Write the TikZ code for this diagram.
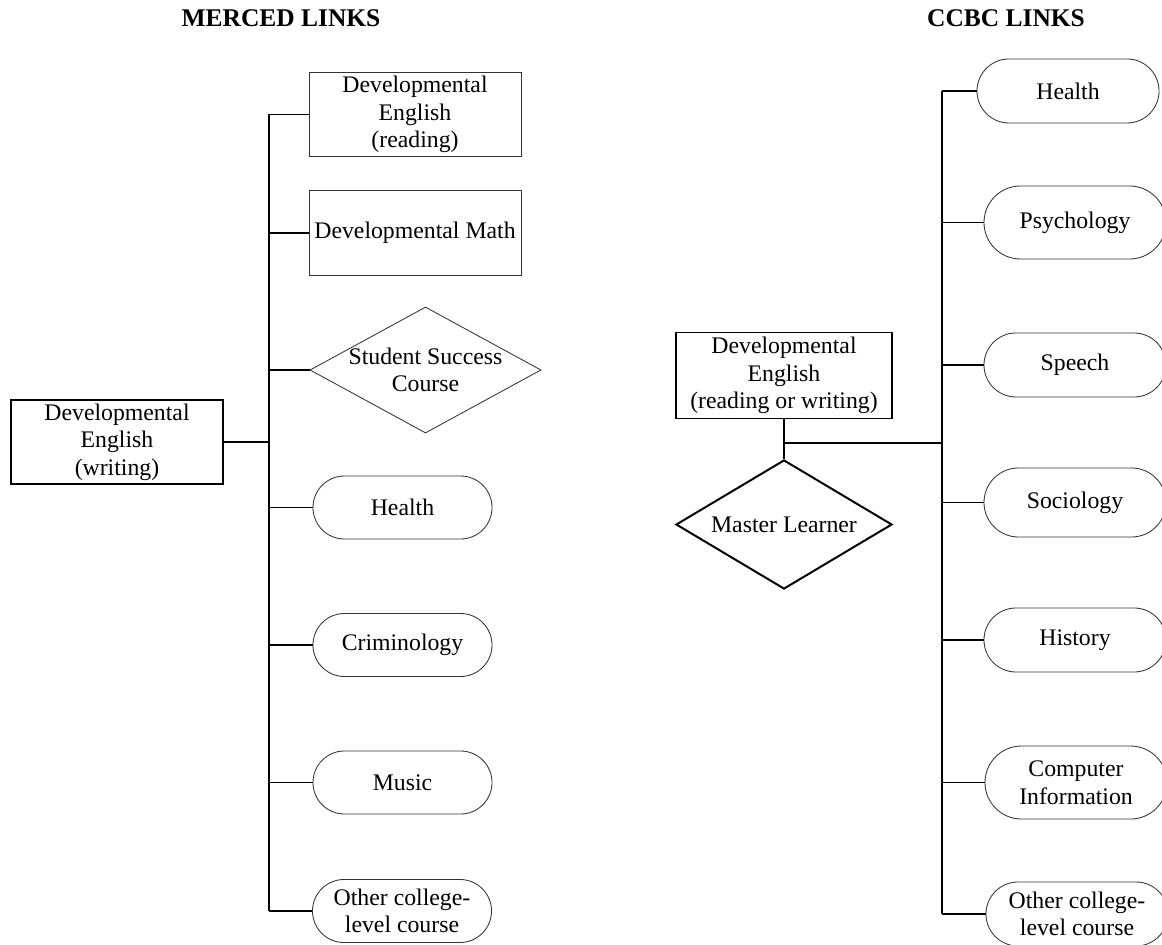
\documentclass[tikz,border=0pt]{standalone}
\usepackage{fontspec}
\setmainfont{Liberation Serif}
\usetikzlibrary{shapes.geometric,shapes.misc}
\begin{document}
\begin{tikzpicture}[x=0.025cm, y=-0.025cm,
  every node/.style={font=\fontsize{16.9}{19.6}\selectfont, align=center, inner sep=0pt},
  title/.style={font=\fontsize{18.1}{21}\selectfont\bfseries},
  box/.style={draw=black!80, line width=0.6pt, minimum width=5.3cm, minimum height=2.12cm},
  mainbox/.style={draw, line width=1.4pt, minimum width=5.3cm, minimum height=2.1cm},
  pill/.style={rounded rectangle, draw=black!80, line width=0.6pt, minimum width=4.475cm, minimum height=1.575cm},
  choice/.style={diamond, draw=black!80, line width=0.6pt, minimum width=5.775cm, minimum height=3.15cm},
  link/.style={line width=1.1pt}]
\useasboundingbox (0,0) rectangle (1162,945);
\node[title] (mt) at (281,18){MERCED LINKS};
\node[title] (ct) at (1006,18){CCBC LINKS};
\node[mainbox] (m0) at (117,442){Developmental\\English\\(writing)};
\node[box] (m1) at (415,114.5){Developmental\\English\\(reading)};
\node[box] (m2) at (415,233){Developmental Math};
\node[choice] (m3) at (425.5,370){\makebox[0pt]{Student Success}\\\makebox[0pt]{Course}};
\node[pill] (m4) at (402.5,507.5){Health};
\node[pill] (m5) at (402.5,645){Criminology};
\node[pill] (m6) at (402.5,782.5){Music};
\node[pill] (m7) at (402,911){Other college-\\level course};
\coordinate (msp) at (269,442);
\draw[link](m0.east) -- (msp);
\draw[link](msp |- m1.west) -- (msp |- m7.west);
\draw[link](msp |- m1.west) -- (m1.west);
\draw[link](msp |- m2.west) -- (m2.west);
\draw[link](msp |- m3.west) -- (m3.west);
\draw[link](msp |- m4.west) -- (m4.west);
\draw[link](msp |- m5.west) -- (m5.west);
\draw[link](msp |- m6.west) -- (m6.west);
\draw[link](msp |- m7.west) -- (m7.west);
\node[mainbox, minimum width=5.4cm, minimum height=2.15cm] (c0) at (784,375.5){Developmental\\English\\(reading or writing)};
\node[choice, draw=black, line width=1.4pt, minimum width=5.4cm, minimum height=3.225cm] (c1) at (784,524.5){\makebox[0pt]{Master Learner}};
\node[pill, minimum width=4.55cm, minimum height=1.6cm] (c2) at (1068,91){Health};
\node[pill, minimum width=4.55cm, minimum height=1.825cm] (c3) at (1075,222.5){Psychology};
\node[pill, minimum width=4.55cm, minimum height=1.6cm] (c4) at (1075,365){Speech};
\node[pill, minimum width=4.55cm, minimum height=1.725cm] (c5) at (1075,502.5){Sociology};
\node[pill, minimum width=4.55cm, minimum height=1.6cm] (c6) at (1075,640){History};
\node[pill, minimum width=4.55cm, minimum height=1.825cm] (c7) at (1076,782.5){Computer\\Information};
\node[pill, minimum width=4.55cm, minimum height=1.6cm] (c8) at (1077,914){Other college-\\level course};
\coordinate (csp) at (942,443);
\draw[link](c0.south) -- (c1.north);
\draw[link](c0.south |- csp) -- (csp);
\draw[link](csp |- c2.west) -- (csp |- c8.west);
\draw[link](csp |- c2.west) -- (c2.west);
\draw[link](csp |- c3.west) -- (c3.west);
\draw[link](csp |- c4.west) -- (c4.west);
\draw[link](csp |- c5.west) -- (c5.west);
\draw[link](csp |- c6.west) -- (c6.west);
\draw[link](csp |- c7.west) -- (c7.west);
\draw[link](csp |- c8.west) -- (c8.west);
\end{tikzpicture}
\end{document}
